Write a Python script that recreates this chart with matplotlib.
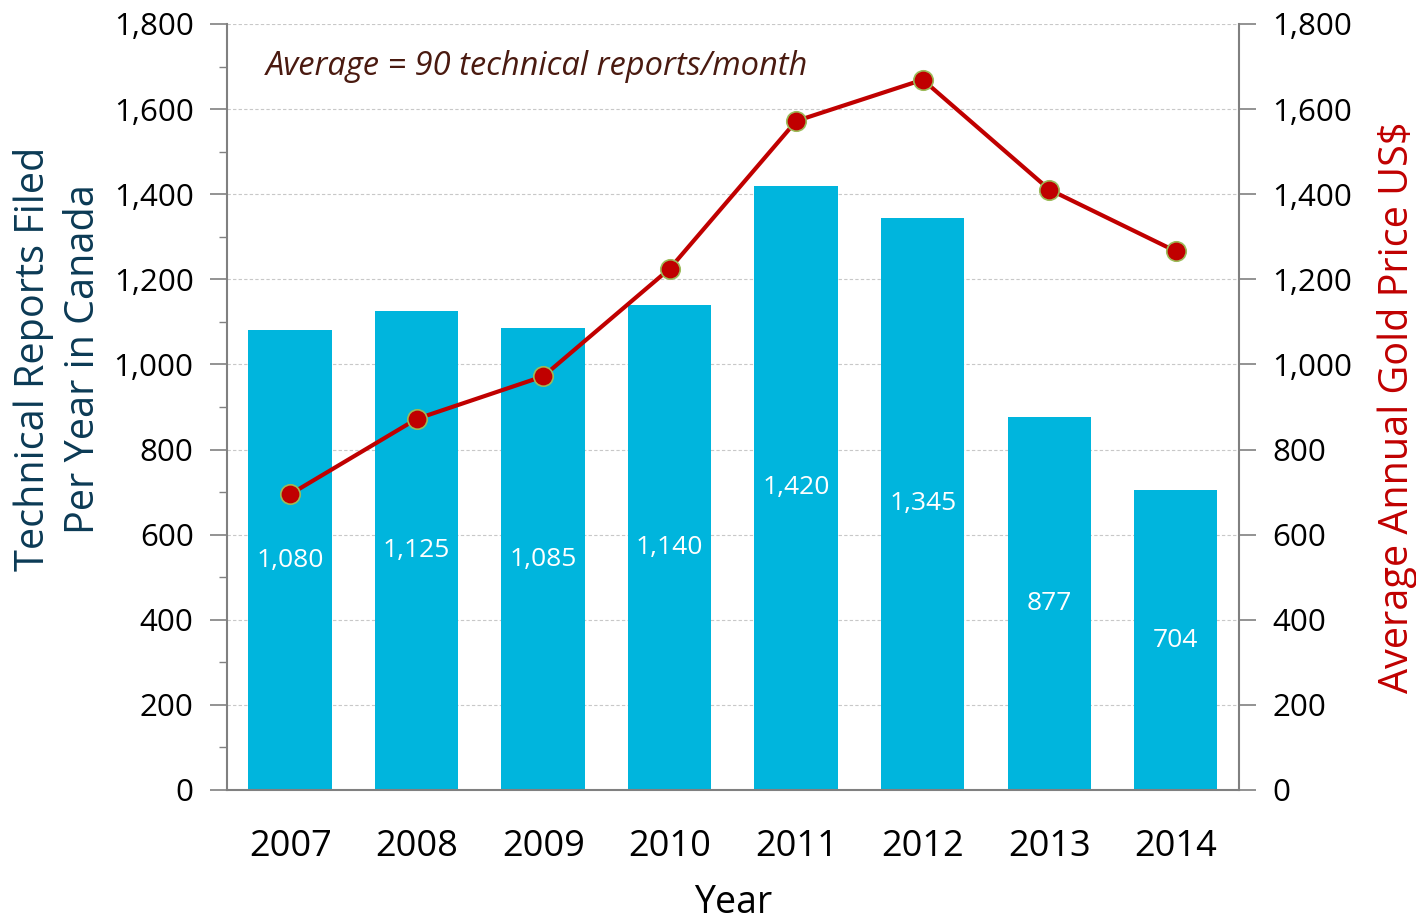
import matplotlib
matplotlib.use("Agg")
import matplotlib.pyplot as plt
from matplotlib.ticker import FuncFormatter, MultipleLocator

years = ["2007", "2008", "2009", "2010", "2011", "2012", "2013", "2014"]
reports = [1080, 1125, 1085, 1140, 1420, 1345, 877, 704]
gold_price = [695, 872, 972, 1225, 1572, 1669, 1411, 1266]

plt.rcParams['font.family'] = ['Open Sans', 'DejaVu Sans']

fig = plt.figure(figsize=(14.16, 9.22), dpi=100)
ax = fig.add_axes([0.1603, 0.1432, 0.875 - 0.1603, 0.974 - 0.1432])
x = list(range(len(years)))

bars = ax.bar(x, reports, width=0.66, color='#00B5DD', zorder=2)
for xi, v in zip(x, reports):
    ax.text(xi, v / 2, f"{v:,}", ha='center', va='center', color='white', fontsize=19, zorder=3)

ax.set_xlim(-0.5, len(years) - 0.5)
ax.set_ylim(0, 1800)
ax.yaxis.set_major_locator(MultipleLocator(200))
ax.yaxis.set_minor_locator(MultipleLocator(100))
fmt = FuncFormatter(lambda v, p: f"{int(v):,}")
ax.yaxis.set_major_formatter(fmt)
ax.set_xticks(x)
ax.set_xticklabels(years, fontsize=26)
ax.tick_params(axis='x', length=0, pad=28)
ax.tick_params(axis='y', which='major', length=12, width=1.2, color='#808080', labelsize=22.5, pad=12)
ax.tick_params(axis='y', which='minor', length=6, width=1.0, color='#808080')
ax.grid(axis='y', which='major', color='#c8c8c8', linestyle=(0, (3, 2)), linewidth=0.8, zorder=0)
ax.set_axisbelow(True)
for s in ['top', 'right']:
    ax.spines[s].set_visible(False)
for s in ['left', 'bottom']:
    ax.spines[s].set_color('#808080')
    ax.spines[s].set_linewidth(1.5)

ax.set_ylabel("Technical Reports Filed\nPer Year in Canada", fontsize=28.5, color='#0B3A55', linespacing=1.3)
ax.yaxis.set_label_coords(-0.122, 0.563)
ax.set_xlabel("Year", fontsize=27, color='black', labelpad=14)

ax.text(0.038, 0.944, "Average = 90 technical reports/month", transform=ax.transAxes,
        fontsize=23.5, style='italic', color='#4A1A10', ha='left', va='center')

ax2 = ax.twinx()
ax2.plot(x, gold_price, color='#C00000', linewidth=3, marker='o', markersize=14,
         markerfacecolor='#C00000', markeredgecolor='#9BBB59', markeredgewidth=1.2, zorder=4)
ax2.set_ylim(0, 1800)
ax2.yaxis.set_major_locator(MultipleLocator(200))
ax2.yaxis.set_major_formatter(fmt)
ax2.tick_params(axis='y', which='major', length=12, width=1.2, color='#808080', labelsize=22.5, pad=12)
for s in ['top', 'left', 'bottom']:
    ax2.spines[s].set_visible(False)
ax2.spines['right'].set_color('#808080')
ax2.spines['right'].set_linewidth(1.5)
ax2.set_ylabel("Average Annual Gold Price US$", fontsize=28.5, color='#C00000', labelpad=18)

fig.savefig("out.png", dpi=100)
